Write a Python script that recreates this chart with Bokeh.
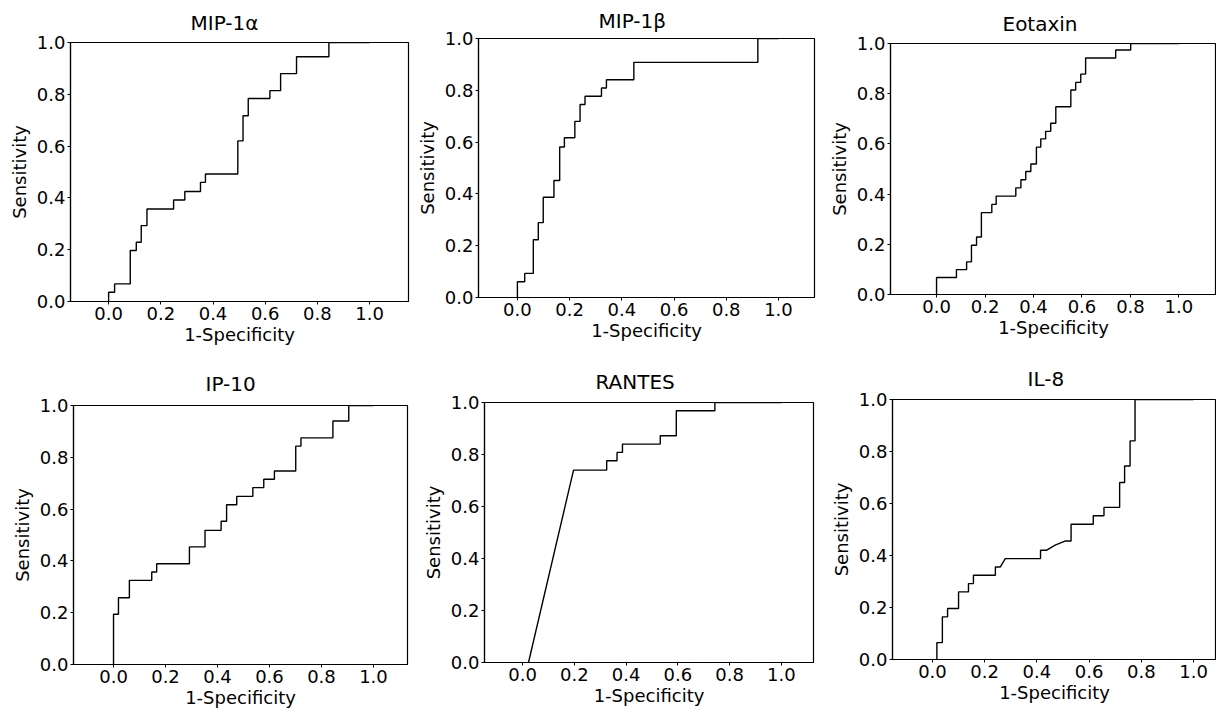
from bokeh.plotting import figure
from bokeh.layouts import column, row
from bokeh.models import Range1d, FixedTicker, PrintfTickFormatter, Title
from bokeh.embed import file_html
from bokeh.resources import INLINE

# ---------------- data ----------------
titles = ["MIP-1α", "MIP-1β", "Eotaxin", "IP-10", "RANTES", "IL-8"]
tick_values = [0.0, 0.2, 0.4, 0.6, 0.8, 1.0]
x_label = "1-Specificity"
y_label = "Sensitivity"

mip1a_fpr = [0, 0, 0.023, 0.023, 0.083, 0.083, 0.106, 0.106, 0.125, 0.125, 0.147, 0.147,
             0.249, 0.249, 0.292, 0.292, 0.352, 0.352, 0.371, 0.371, 0.495, 0.495, 0.515, 0.515,
             0.535, 0.535, 0.618, 0.618, 0.659, 0.659, 0.72, 0.72, 0.844, 0.844, 1.0]
mip1a_tpr = [0, 0.036, 0.036, 0.068, 0.068, 0.197, 0.197, 0.229, 0.229, 0.293, 0.293, 0.357,
             0.357, 0.392, 0.392, 0.425, 0.425, 0.46, 0.46, 0.492, 0.492, 0.62, 0.62, 0.717,
             0.717, 0.784, 0.784, 0.814, 0.814, 0.88, 0.88, 0.945, 0.945, 1.0, 1.0]

mip1b_fpr = [0, 0, 0.028, 0.028, 0.061, 0.061, 0.080, 0.080, 0.099, 0.099, 0.140, 0.140,
             0.162, 0.162, 0.180, 0.180, 0.220, 0.220, 0.240, 0.240, 0.259, 0.259, 0.322, 0.322,
             0.341, 0.341, 0.446, 0.446, 0.921, 0.921, 1.0]
mip1b_tpr = [0, 0.061, 0.061, 0.093, 0.093, 0.223, 0.223, 0.289, 0.289, 0.387, 0.387, 0.452,
             0.452, 0.581, 0.581, 0.617, 0.617, 0.680, 0.680, 0.745, 0.745, 0.777, 0.777, 0.809,
             0.809, 0.841, 0.841, 0.908, 0.908, 1.0, 1.0]

eotaxin_fpr = [0, 0, 0.082, 0.082, 0.124, 0.124, 0.144, 0.144, 0.165, 0.165, 0.185, 0.185,
               0.228, 0.228, 0.246, 0.246, 0.327, 0.327, 0.348, 0.348, 0.368, 0.368, 0.389, 0.389,
               0.412, 0.412, 0.43, 0.43, 0.45, 0.45, 0.471, 0.471, 0.492, 0.492, 0.554, 0.554,
               0.574, 0.574, 0.595, 0.595, 0.615, 0.615, 0.739, 0.739, 0.801, 0.801, 1.0]
eotaxin_tpr = [0, 0.068, 0.068, 0.099, 0.099, 0.13, 0.13, 0.196, 0.196, 0.229, 0.229, 0.326,
               0.326, 0.359, 0.359, 0.392, 0.392, 0.425, 0.425, 0.457, 0.457, 0.49, 0.49, 0.52,
               0.52, 0.587, 0.587, 0.62, 0.62, 0.65, 0.65, 0.682, 0.682, 0.748, 0.748, 0.815,
               0.815, 0.845, 0.845, 0.878, 0.878, 0.942, 0.942, 0.974, 0.974, 1.0, 1.0]

ip10_fpr = [0, 0, 0.019, 0.019, 0.061, 0.061, 0.147, 0.147, 0.166, 0.166, 0.292, 0.292,
            0.352, 0.352, 0.414, 0.414, 0.435, 0.435, 0.474, 0.474, 0.536, 0.536, 0.578, 0.578,
            0.619, 0.619, 0.701, 0.701, 0.721, 0.721, 0.844, 0.844, 0.905, 0.905, 1.0]
ip10_tpr = [0, 0.194, 0.194, 0.258, 0.258, 0.325, 0.325, 0.357, 0.357, 0.389, 0.389, 0.454,
            0.454, 0.518, 0.518, 0.553, 0.553, 0.617, 0.617, 0.649, 0.649, 0.683, 0.683, 0.715,
            0.715, 0.747, 0.747, 0.843, 0.843, 0.875, 0.875, 0.94, 0.94, 1.0, 1.0]

rantes_fpr = [0.023, 0.197, 0.325, 0.325, 0.365, 0.365, 0.386, 0.386, 0.532, 0.532,
              0.594, 0.594, 0.743, 0.743, 1.0]
rantes_tpr = [0, 0.74, 0.74, 0.776, 0.776, 0.808, 0.808, 0.84, 0.84, 0.872,
              0.872, 0.968, 0.968, 1.0, 1.0]

il8_fpr = [0.017, 0.017, 0.038, 0.038, 0.058, 0.058, 0.1, 0.1, 0.138, 0.138, 0.157, 0.157,
           0.241, 0.241, 0.26, 0.279, 0.414, 0.414, 0.436, 0.47, 0.51, 0.531, 0.531, 0.616,
           0.616, 0.657, 0.657, 0.717, 0.717, 0.736, 0.736, 0.757, 0.757, 0.776, 0.776, 1.0]
il8_tpr = [0, 0.065, 0.065, 0.164, 0.164, 0.196, 0.196, 0.26, 0.26, 0.292, 0.292, 0.324,
           0.324, 0.356, 0.356, 0.388, 0.388, 0.42, 0.42, 0.44, 0.456, 0.456, 0.52, 0.52,
           0.553, 0.553, 0.585, 0.585, 0.681, 0.681, 0.744, 0.744, 0.841, 0.841, 1.0, 1.0]

series = [(mip1a_fpr, mip1a_tpr), (mip1b_fpr, mip1b_tpr), (eotaxin_fpr, eotaxin_tpr),
          (ip10_fpr, ip10_tpr), (rantes_fpr, rantes_tpr), (il8_fpr, il8_tpr)]

# ---------------- layout / style ----------------
FONT = "DejaVu Sans"
col_w = [412, 406, 398]
row_h = [352, 359]
# (left, right, top, bottom) borders per panel
borders = [(70, 4, 42, 51), (66, 4, 38, 55), (72, 0, 43, 58),
           (73, 5, 53, 47), (72, 5, 50, 49), (74, 0, 47, 52)]
xranges = [(-0.146, 1.149), (-0.149, 1.138), (-0.19, 1.155),
           (-0.154, 1.131), (-0.147, 1.124), (-0.153, 1.088)]
title_offset = [120, 120, 112, 132, 111, 135]
title_standoff = [15, 11, 12, 19, 17, 17]
title_valign = ["bottom", "bottom", "top", "bottom", "bottom", "bottom"]


def make_panel(i):
    r, c = divmod(i, 3)
    bl, br, bt, bb = borders[i]
    p = figure(width=col_w[c], height=row_h[r],
               x_range=Range1d(*xranges[i]), y_range=Range1d(0, 1),
               output_backend="svg", toolbar_location=None,
               min_border_left=bl, min_border_right=br,
               min_border_top=bt, min_border_bottom=bb,
               background_fill_color="white", border_fill_color="white")
    p.title = Title(text=titles[i], align="left", offset=title_offset[i],
                    standoff=title_standoff[i], vertical_align=title_valign[i],
                    text_font=FONT, text_font_size="20px", text_font_style="normal",
                    text_color="black")
    p.outline_line_color = "black"
    p.outline_line_width = 1.2
    p.grid.grid_line_color = None
    fpr, tpr = series[i]
    p.line(fpr, tpr, line_color="black", line_width=1.4)

    for ax in (p.xaxis[0], p.yaxis[0]):
        ax.ticker = FixedTicker(ticks=tick_values)
        ax.formatter = PrintfTickFormatter(format="%.1f")
        ax.axis_line_color = "black"
        ax.axis_line_width = 1.2
        ax.major_tick_line_color = "black"
        ax.major_tick_in = 0
        ax.major_tick_out = 3
        ax.minor_tick_line_color = None
        ax.major_label_text_font = FONT
        ax.major_label_text_font_size = "18px"
        ax.major_label_text_color = "black"
        ax.axis_label_text_font = FONT
        ax.axis_label_text_font_size = "18px"
        ax.axis_label_text_font_style = "normal"
        ax.axis_label_text_color = "black"
        ax.major_label_standoff = 2
    p.xaxis.axis_label = x_label
    p.yaxis.axis_label = y_label
    p.xaxis.axis_label_standoff = 1
    p.yaxis.axis_label_standoff = 4
    return p


panels = [make_panel(i) for i in range(6)]
# wrap each plot in its own column so that rows don't align the plot frames
cells = [column(p, width=col_w[i % 3], height=row_h[i // 3]) for i, p in enumerate(panels)]
layout = column(row(*cells[0:3]), row(*cells[3:6]))

open("out.html", "w").write(file_html(layout, INLINE))
